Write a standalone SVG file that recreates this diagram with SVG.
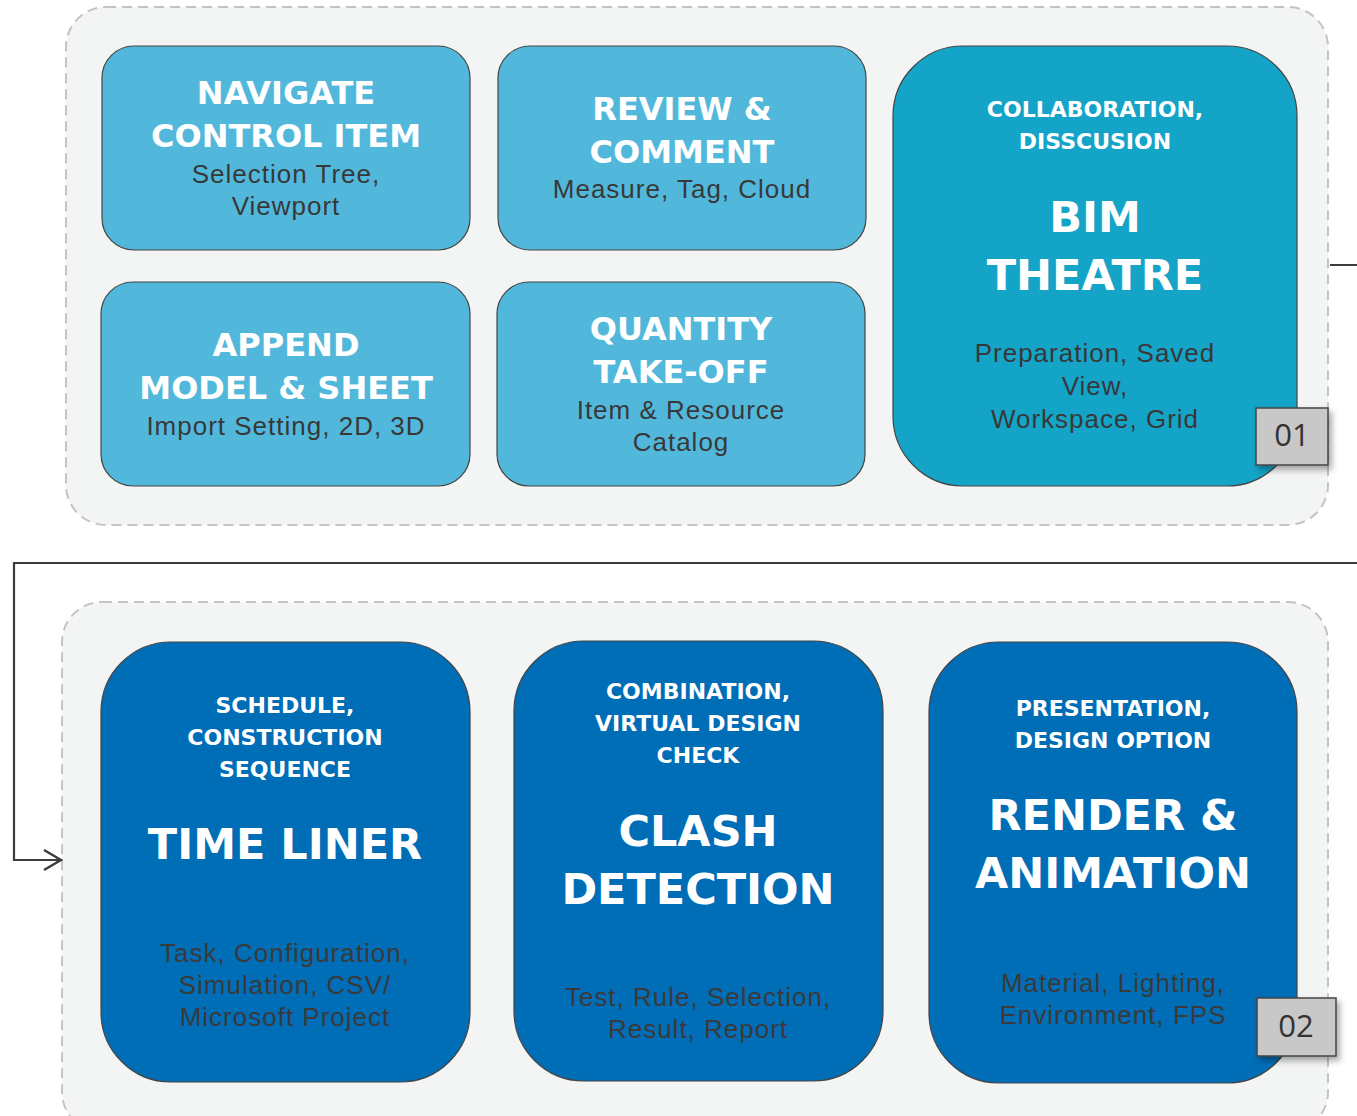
<svg xmlns="http://www.w3.org/2000/svg" width="1357" height="1116" viewBox="0 0 1357 1116">
<defs>
<style>
.panel{fill:#f3f4f4;stroke:#c4c4c4;stroke-width:2;stroke-dasharray:10 6}
.lt{fill:#52b8db;stroke:#444;stroke-width:1.2}
.md{fill:#14a4c8;stroke:#444;stroke-width:1.2}
.dk{fill:#006db7;stroke:#444;stroke-width:1.2}
.badge{fill:#c8c8c9;stroke:#444;stroke-width:1.5}
.t{font-family:"DejaVu Sans",sans-serif;font-weight:bold;fill:#fff;text-anchor:middle}
.t1{font-size:32px}
.t2{font-size:22px}
.t3{font-size:43px}
.b{font-family:"Liberation Sans",sans-serif;font-size:26px;fill:#383838;text-anchor:middle;letter-spacing:1px}
.bd{fill:#3a3a3a}
.bt{font-family:"Open Sans",sans-serif;font-size:31px;fill:#333;text-anchor:middle}
.conn{fill:none;stroke:#3c3c3c;stroke-width:2.2}
</style>
<marker id="arr" markerWidth="22" markerHeight="24" refX="18" refY="11" orient="auto" markerUnits="userSpaceOnUse">
<path d="M1,1 L18,11 L1,21" fill="none" stroke="#3c3c3c" stroke-width="2.4"/>
</marker>
<filter id="sh" x="-30%" y="-30%" width="170%" height="170%">
<feDropShadow dx="3" dy="4" stdDeviation="3" flood-color="#000" flood-opacity="0.35"/>
</filter>
</defs>
<g id="panel1"><rect class="panel" x="66" y="7" width="1262" height="518" rx="40"/></g>
<g id="panel2"><rect class="panel" x="62" y="602" width="1266" height="530" rx="40"/></g>
<g id="connectors">
<path class="conn" d="M1330,265 H1400 V563 H14 V860 H61" marker-end="url(#arr)"/>
</g>
<g id="navigate">
<rect class="lt" x="102" y="46" width="368" height="204" rx="32"/>
<text class="t t1" x="286" y="104">NAVIGATE</text>
<text class="t t1" x="286" y="147">CONTROL ITEM</text>
<text class="b" x="286" y="183">Selection Tree,</text>
<text class="b" x="286" y="215">Viewport</text>
</g>
<g id="review">
<rect class="lt" x="498" y="46" width="368" height="204" rx="32"/>
<text class="t t1" x="682" y="120">REVIEW &amp;</text>
<text class="t t1" x="682" y="163">COMMENT</text>
<text class="b" x="682" y="198">Measure, Tag, Cloud</text>
</g>
<g id="append">
<rect class="lt" x="101" y="282" width="369" height="204" rx="32"/>
<text class="t t1" x="286" y="356">APPEND</text>
<text class="t t1" x="286" y="399">MODEL &amp; SHEET</text>
<text class="b" x="286" y="435">Import Setting, 2D, 3D</text>
</g>
<g id="quantity">
<rect class="lt" x="497" y="282" width="368" height="204" rx="32"/>
<text class="t t1" x="681" y="340">QUANTITY</text>
<text class="t t1" x="681" y="383">TAKE-OFF</text>
<text class="b" x="681" y="419">Item &amp; Resource</text>
<text class="b" x="681" y="451">Catalog</text>
</g>
<g id="bimtheatre">
<rect class="md" x="893" y="46" width="404" height="440" rx="70"/>
<text class="t t2" x="1095" y="117">COLLABORATION,</text>
<text class="t t2" x="1095" y="149">DISSCUSION</text>
<text class="t t3" x="1095" y="232">BIM</text>
<text class="t t3" x="1095" y="290">THEATRE</text>
<text class="b" x="1095" y="362">Preparation, Saved</text>
<text class="b" x="1095" y="395">View,</text>
<text class="b" x="1095" y="428">Workspace, Grid</text>
</g>
<g id="badge01">
<rect class="badge" x="1256" y="408" width="72" height="57" filter="url(#sh)"/>
<text class="bt" x="1292" y="446">01</text>
</g>
<g id="timeliner">
<rect class="dk" x="101" y="642" width="369" height="440" rx="70"/>
<text class="t t2" x="285" y="713">SCHEDULE,</text>
<text class="t t2" x="285" y="745">CONSTRUCTION</text>
<text class="t t2" x="285" y="777">SEQUENCE</text>
<text class="t t3" x="285" y="859">TIME LINER</text>
<text class="b bd" x="285" y="962">Task, Configuration,</text>
<text class="b bd" x="285" y="994">Simulation, CSV/</text>
<text class="b bd" x="285" y="1026">Microsoft Project</text>
</g>
<g id="clash">
<rect class="dk" x="514" y="641" width="369" height="440" rx="70"/>
<text class="t t2" x="698" y="699">COMBINATION,</text>
<text class="t t2" x="698" y="731">VIRTUAL DESIGN</text>
<text class="t t2" x="698" y="763">CHECK</text>
<text class="t t3" x="698" y="846">CLASH</text>
<text class="t t3" x="698" y="904">DETECTION</text>
<text class="b bd" x="698" y="1006">Test, Rule, Selection,</text>
<text class="b bd" x="698" y="1038">Result, Report</text>
</g>
<g id="render">
<rect class="dk" x="929" y="642" width="368" height="441" rx="70"/>
<text class="t t2" x="1113" y="716">PRESENTATION,</text>
<text class="t t2" x="1113" y="748">DESIGN OPTION</text>
<text class="t t3" x="1113" y="830">RENDER &amp;</text>
<text class="t t3" x="1113" y="888">ANIMATION</text>
<text class="b bd" x="1113" y="992">Material, Lighting,</text>
<text class="b bd" x="1113" y="1024">Environment, FPS</text>
</g>
<g id="badge02">
<rect class="badge" x="1257" y="998" width="79" height="58" filter="url(#sh)"/>
<text class="bt" x="1296" y="1037">02</text>
</g>
</svg>
